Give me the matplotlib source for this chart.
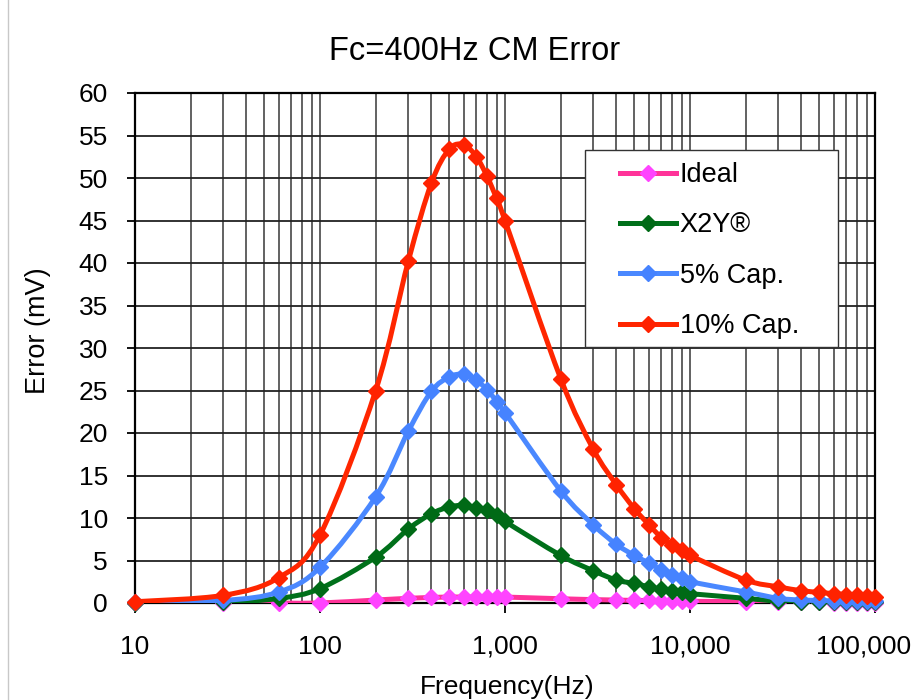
import numpy as np
import matplotlib
matplotlib.use("Agg")
import matplotlib.pyplot as plt
from matplotlib.path import Path
from matplotlib.patches import PathPatch, Rectangle
from matplotlib.lines import Line2D
from matplotlib.transforms import ScaledTranslation
from matplotlib.ticker import FixedLocator, FixedFormatter, NullFormatter, NullLocator

plt.rcParams['font.family'] = ['Liberation Sans', 'DejaVu Sans']

# ---- data ----
freq = [10, 30, 60, 100, 200, 300, 400, 500, 600, 700, 800, 900, 1000,
        2000, 3000, 4000, 5000, 6000, 7000, 8000, 9000, 10000,
        20000, 30000, 40000, 50000, 60000, 70000, 80000, 90000, 100000]
ideal = [0.0, 0.0, 0.0, 0.0, 0.35, 0.55, 0.65, 0.7, 0.7, 0.7, 0.7, 0.7, 0.7,
         0.5, 0.4, 0.35, 0.3, 0.3, 0.25, 0.25, 0.25, 0.2,
         0.15, 0.1, 0.1, 0.1, 0.05, 0.05, 0.05, 0.05, 0.05]
x2y = [0.05, 0.1, 0.55, 1.7, 5.4, 8.7, 10.5, 11.3, 11.5, 11.2, 10.9, 10.4, 9.6,
       5.6, 3.8, 2.7, 2.3, 1.9, 1.6, 1.4, 1.25, 1.1,
       0.55, 0.2, 0.1, 0.1, 0.1, 0.1, 0.1, 0.1, 0.1]
cap5 = [0.1, 0.3, 1.3, 4.2, 12.5, 20.2, 24.9, 26.6, 26.9, 26.2, 25.1, 23.7, 22.4,
        13.2, 9.2, 6.9, 5.6, 4.7, 3.9, 3.3, 2.9, 2.5,
        1.3, 0.55, 0.35, 0.3, 0.25, 0.25, 0.2, 0.2, 0.2]
cap10 = [0.15, 0.9, 3.0, 8.0, 25.0, 40.2, 49.4, 53.4, 53.9, 52.5, 50.2, 47.6, 45.0,
         26.4, 18.1, 13.9, 11.1, 9.2, 7.7, 6.8, 6.2, 5.6,
         2.7, 1.9, 1.45, 1.25, 1.1, 1.0, 0.9, 0.8, 0.7]
series_names = ["Ideal", "X2Y®", "5% Cap.", "10% Cap."]
x_tick_values = [10, 100, 1000, 10000, 100000]
x_tick_labels = ["10", "100", "1,000", "10,000", "100,000"]
y_tick_values = list(range(0, 61, 5))

title = "Fc=400Hz CM Error"
xlabel = "Frequency(Hz)"
ylabel = "Error (mV)"

# styles: (line colour, marker colour)
styles = [("#FF3399", "#FF44FF"), ("#00701A", "#006A16"),
          ("#4A88FF", "#4683FF"), ("#FF2600", "#FF2200")]


def smooth_path(xs, ys):
    """Excel-like smoothed line: Catmull-Rom Bezier in (log x, y) space."""
    u = np.log10(np.asarray(xs, float))
    v = np.asarray(ys, float)
    n = len(u)
    verts = [(xs[0], ys[0])]
    codes = [Path.MOVETO]
    for i in range(n - 1):
        i0 = max(i - 1, 0)
        i3 = min(i + 2, n - 1)
        c1u = u[i] + (u[i + 1] - u[i0]) / 6.0
        c1v = v[i] + (v[i + 1] - v[i0]) / 6.0
        c2u = u[i + 1] - (u[i3] - u[i]) / 6.0
        c2v = v[i + 1] - (v[i3] - v[i]) / 6.0
        verts += [(10 ** c1u, c1v), (10 ** c2u, c2v), (xs[i + 1], ys[i + 1])]
        codes += [Path.CURVE4] * 3
    return Path(verts, codes)


W, H = 920, 700
fig = plt.figure(figsize=(9.2, 7.0), dpi=100)
ax = fig.add_axes([135 / W, 1 - 603 / H, (875 - 135) / W, (603 - 93) / H])

ax.set_xscale('log')
ax.set_xlim(10, 100000)
ax.set_ylim(0, 60)

# grid
for d in [10, 100, 1000, 10000]:
    for k in range(1, 10):
        xv = d * k
        if 10 < xv < 100000:
            ax.axvline(xv, color="#555555", lw=1.3, zorder=1)
for yv in y_tick_values[1:-1]:
    ax.axhline(yv, color="#222222", lw=1.3, zorder=1)

all_series = [ideal, x2y, cap5, cap10]
handles = []
for i, (vals, (lc, mc)) in enumerate(zip(all_series, styles)):
    patch = PathPatch(smooth_path(freq, vals), facecolor='none', edgecolor=lc,
                      lw=3.6, zorder=3 + 2 * i, capstyle='round', joinstyle='round')
    ax.add_patch(patch)
    ax.plot(freq, vals, linestyle='none', marker='D', markersize=8.5,
            markerfacecolor=mc, markeredgecolor=mc, markeredgewidth=1,
            zorder=4 + 2 * i, clip_on=False)
    handles.append(Line2D([], [], color=lc, lw=3.6, marker='D', markersize=8.5,
                          markerfacecolor=mc, markeredgecolor=mc))

# axes styling
for s in ['left', 'top', 'right', 'bottom']:
    ax.spines[s].set_color('black')
    ax.spines[s].set_linewidth(1.6)
    ax.spines[s].set_zorder(2)

ax.yaxis.set_major_locator(FixedLocator(y_tick_values))
ax.set_yticklabels([str(v) for v in y_tick_values])
ax.xaxis.set_major_locator(FixedLocator(x_tick_values))
ax.xaxis.set_major_formatter(FixedFormatter(x_tick_labels))
ax.xaxis.set_minor_locator(NullLocator())
ax.xaxis.set_minor_formatter(NullFormatter())
ax.tick_params(axis='y', direction='out', length=6, width=1.3, pad=13.5,
               labelsize=19, colors='black')
ax.tick_params(axis='x', direction='out', length=7, width=1.3, pad=16,
               labelsize=19, colors='black')

ax.set_xlabel(xlabel, fontsize=19, va='center')
ax.xaxis.set_label_coords((507 - 135) / 740, (603 - 687) / 510)
ax.set_ylabel(ylabel, fontsize=19.5, va='center')
ax.yaxis.set_label_coords((38 - 135) / 740, (603 - 331) / 510)
fig.text(475 / W, 1 - 52 / H, title, fontsize=23.5, ha='center', va='center')

# legend frame and legend
frame = Rectangle((585 / W, 1 - 347 / H), (838 - 585) / W, (347 - 150) / H,
                  transform=fig.transFigure, facecolor='white', edgecolor='#333333',
                  lw=1.0, zorder=19, clip_on=False)
ax.add_patch(frame)
leg = ax.legend(handles, series_names, loc='upper left',
                bbox_to_anchor=(620 / W, 1 - 162 / H),
                bbox_transform=fig.transFigure, frameon=False,
                fontsize=19.5, handlelength=2.05, handletextpad=0.15,
                labelspacing=0.9, borderpad=0, borderaxespad=0)
leg.set_zorder(20)

# keep the last x tick label inside the picture (as in the reference)
fig.canvas.draw()
last = ax.xaxis.get_major_ticks()[-1].label1
last.set_transform(last.get_transform() + ScaledTranslation(-8 / 72, 0, fig.dpi_scale_trans))

# thin page border line at left
fig.add_artist(Line2D([8 / W, 8 / W], [0, 1], color='#c8c8c8', lw=1,
                      transform=fig.transFigure))

fig.savefig("out.png", dpi=100)
